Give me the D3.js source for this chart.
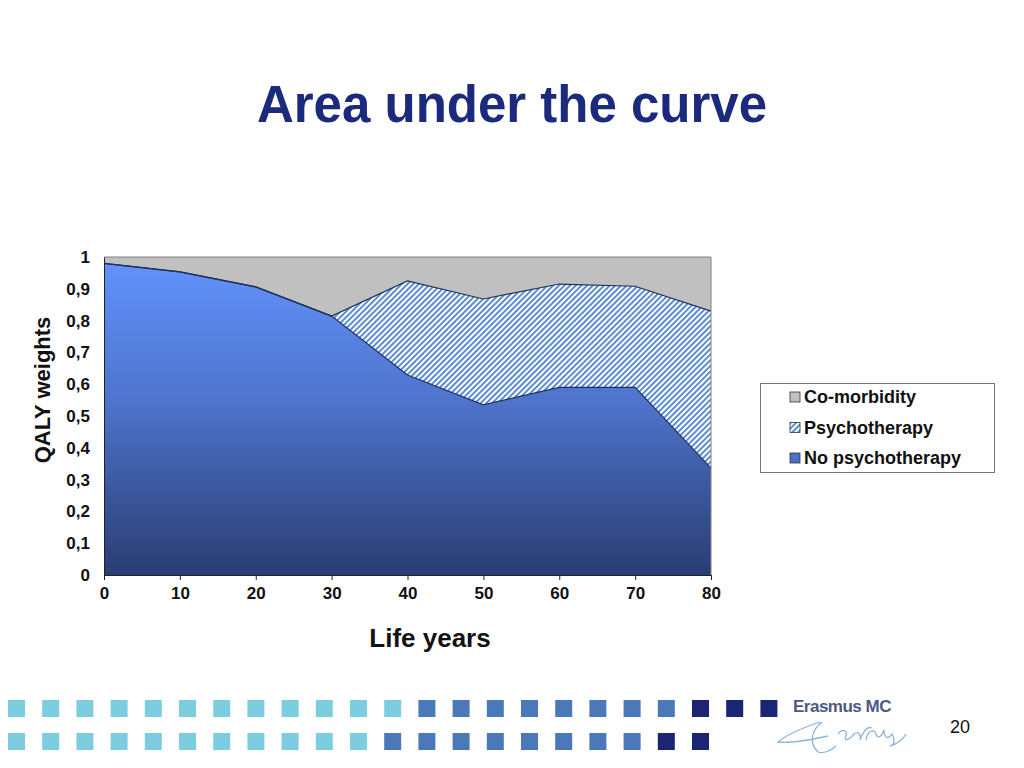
<!DOCTYPE html>
<html lang="en">
<head>
  <meta charset="UTF-8">
  <title>Area under the curve</title>
  <script src="https://d3js.org/d3.v7.min.js"></script>
  <style>
    body { background: #fff; margin: 0; }
    svg { display: block; }
    text { font-family: "Liberation Sans", Arial, sans-serif; }
    .tick-label { font-size: 17px; font-weight: bold; fill: #111; }
    .legend-label { font-size: 18px; font-weight: bold; fill: #111; }
  </style>
</head>
<body>
  <svg width="1024" height="768"></svg>

  <script>
// data
const years = [0, 10, 20, 30, 40, 50, 60, 70, 80];
const noPsychotherapy = [0.98, 0.953, 0.906, 0.814, 0.629, 0.535, 0.59, 0.59, 0.336];
const psychotherapy   = [0, 0, 0, 0, 0.296, 0.333, 0.325, 0.318, 0.494];
const coMorbidity     = [0.02, 0.047, 0.094, 0.186, 0.075, 0.132, 0.085, 0.092, 0.17];
const yTicks = [0, 0.1, 0.2, 0.3, 0.4, 0.5, 0.6, 0.7, 0.8, 0.9, 1];
const xTicks = [0, 10, 20, 30, 40, 50, 60, 70, 80];
const seriesNames = ["No psychotherapy", "Psychotherapy", "Co-morbidity"];
const legendOrder = ["Co-morbidity", "Psychotherapy", "No psychotherapy"];

// footer squares: light / medium / dark counts per row
const footerRows = [[12, 8, 3], [11, 8, 2]];

const svg = d3.select("svg");

const plot = { left: 104, right: 711, top: 257, bottom: 575 };
const x = d3.scaleLinear().domain([0, 80]).range([plot.left, plot.right]);
const y = d3.scaleLinear().domain([0, 1]).range([plot.bottom, plot.top]);

// defs: gradient + hatch
const defs = svg.append("defs");
const grad = defs.append("linearGradient")
  .attr("id", "blueGrad")
  .attr("gradientUnits", "userSpaceOnUse")
  .attr("x1", 0).attr("y1", plot.top).attr("x2", 0).attr("y2", plot.bottom);
grad.append("stop").attr("offset", "0%").attr("stop-color", "#6393fd");
grad.append("stop").attr("offset", "45%").attr("stop-color", "#4e74cc");
grad.append("stop").attr("offset", "100%").attr("stop-color", "#2a3d73");

const hatch = defs.append("pattern")
  .attr("id", "hatch")
  .attr("patternUnits", "userSpaceOnUse")
  .attr("width", 4).attr("height", 4)
  .attr("patternTransform", "rotate(45)");
hatch.append("rect").attr("width", 4).attr("height", 4).attr("fill", "#ffffff");
hatch.append("line")
  .attr("x1", 1).attr("y1", 0).attr("x2", 1).attr("y2", 4)
  .attr("stroke", "#4a7fcc").attr("stroke-width", 1.8);

// Title
svg.append("text")
  .attr("x", 512).attr("y", 122)
  .attr("text-anchor", "middle")
  .attr("font-size", 51)
  .attr("font-weight", "bold")
  .attr("fill", "#1b2a7c")
  .text("Area under the curve");

// stacked areas
const table = years.map((yr, i) => ({
  year: yr,
  "No psychotherapy": noPsychotherapy[i],
  "Psychotherapy": psychotherapy[i],
  "Co-morbidity": coMorbidity[i]
}));
const stacked = d3.stack().keys(seriesNames)(table);

const fills = {
  "No psychotherapy": "url(#blueGrad)",
  "Psychotherapy": "url(#hatch)",
  "Co-morbidity": "#c0c0c0"
};

const area = d3.area()
  .x(d => x(d.data.year))
  .y0(d => y(d[0]))
  .y1(d => y(d[1]));

svg.append("g").selectAll("path")
  .data(stacked)
  .join("path")
  .attr("d", area)
  .attr("fill", d => fills[d.key]);

// series top outlines
const topLine = d3.line()
  .x(d => x(d.data.year))
  .y(d => y(d[1]));
svg.append("g").selectAll("path")
  .data(stacked.slice(0, 2))
  .join("path")
  .attr("d", topLine)
  .attr("fill", "none")
  .attr("stroke", "#1f2f5c")
  .attr("stroke-width", 1.2);

// plot frame (top/right grey)
svg.append("path")
  .attr("d", `M${plot.left},${plot.top}H${plot.right}V${plot.bottom}`)
  .attr("fill", "none")
  .attr("stroke", "#808080")
  .attr("stroke-width", 1);

// axes
const yAxis = svg.append("g")
  .attr("transform", `translate(${plot.left},0)`)
  .call(d3.axisLeft(y).tickValues(yTicks).tickSize(0).tickPadding(14)
    .tickFormat(d => d3.format(".1~f")(d).replace(".", ",")));
yAxis.select(".domain").attr("stroke", "#222");
yAxis.selectAll("text").attr("class", "tick-label").attr("font-family", null).attr("font-size", null);

const xAxis = svg.append("g")
  .attr("transform", `translate(0,${plot.bottom})`)
  .call(d3.axisBottom(x).tickValues(xTicks).tickSize(5).tickPadding(7));
xAxis.select(".domain").attr("stroke", "#222");
xAxis.selectAll("line").attr("stroke", "#222");
xAxis.selectAll("text").attr("class", "tick-label").attr("font-family", null).attr("font-size", null);

// axis titles
svg.append("text")
  .attr("transform", "translate(50,390) rotate(-90)")
  .attr("text-anchor", "middle")
  .attr("font-size", 22)
  .attr("font-weight", "bold")
  .attr("fill", "#111")
  .text("QALY weights");

svg.append("text")
  .attr("x", 430).attr("y", 647)
  .attr("text-anchor", "middle")
  .attr("font-size", 26)
  .attr("font-weight", "bold")
  .attr("fill", "#111")
  .text("Life years");

// legend
const legend = svg.append("g");
legend.append("rect")
  .attr("x", 760.5).attr("y", 383.5)
  .attr("width", 234).attr("height", 89)
  .attr("fill", "#fff")
  .attr("stroke", "#777");

const legendItems = legend.selectAll("g.item")
  .data(legendOrder)
  .join("g")
  .attr("class", "item")
  .attr("transform", (d, i) => `translate(790,${397 + i * 30.5})`);
legendItems.append("rect")
  .attr("x", 0).attr("y", -5)
  .attr("width", 10).attr("height", 10)
  .attr("fill", d => d === "Psychotherapy" ? "url(#hatch)" : (d === "No psychotherapy" ? "#4a70c8" : "#c0c0c0"))
  .attr("stroke", "#333")
  .attr("stroke-width", 0.8);
legendItems.append("text")
  .attr("class", "legend-label")
  .attr("x", 14).attr("y", 6)
  .text(d => d);

// footer squares
const footerColors = ["#7dcde0", "#4a78b8", "#1b2574"];
footerRows.forEach((counts, r) => {
  const cells = [];
  counts.forEach((n, c) => d3.range(n).forEach(() => cells.push(footerColors[c])));
  svg.append("g").selectAll("rect")
    .data(cells)
    .join("rect")
    .attr("x", (d, i) => 8 + i * 34.2)
    .attr("y", r === 0 ? 700 : 733)
    .attr("width", 17).attr("height", 17)
    .attr("fill", d => d);
});

// logo
svg.append("text")
  .attr("x", 793).attr("y", 712)
  .attr("font-size", 17)
  .attr("font-weight", "bold")
  .attr("fill", "#4b5a85")
  .attr("letter-spacing", -0.5)
  .text("Erasmus MC");
svg.append("path")
  .attr("d", "M820,722 C808,726 790,732 778,742 C790,744 810,740 828,736 M822,722 C812,730 808,742 818,752 C824,754 832,750 836,746 M838,734 C842,728 848,730 846,736 C843,742 850,740 854,734 C858,730 862,736 860,740 C864,730 868,726 872,728 M866,740 C868,730 874,728 876,734 C878,740 882,736 884,730 C884,738 888,740 892,734 C894,738 896,744 890,746 C898,744 904,738 906,734")
  .attr("fill", "none")
  .attr("stroke", "#8fb4dc")
  .attr("stroke-width", 1.3);

// page number
svg.append("text")
  .attr("x", 960).attr("y", 733)
  .attr("text-anchor", "middle")
  .attr("font-size", 18)
  .attr("fill", "#111")
  .text("20");
  </script>
</body>
</html>
